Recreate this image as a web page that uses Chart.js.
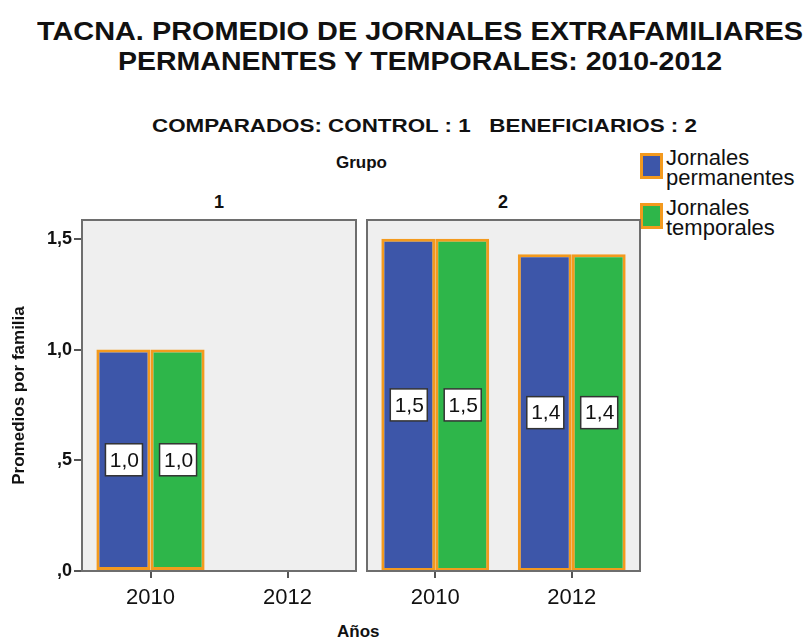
<!DOCTYPE html>
<html>
<head>
<meta charset="utf-8">
<script src="https://cdn.jsdelivr.net/npm/chart.js@4.4.0/dist/chart.umd.min.js"></script>
<style>
  body { margin: 0; background: #fff; width: 811px; height: 642px; position: relative; overflow: hidden;
         font-family: "Liberation Sans", Arial, sans-serif; color: #111; }
  .t { position: absolute; white-space: nowrap; }
  .fit { transform-origin: 0 0; font-family: "Liberation Sans Narrow", "Liberation Sans", Arial, sans-serif; }
  canvas { position: absolute; }
  .sw { position: absolute; width: 17px; height: 20px; border: 3px solid #f39a1e; }
</style>
</head>
<body>
<div id="title1" class="t fit" style="font-weight:bold;font-size:26px;top:16px;">TACNA. PROMEDIO DE JORNALES EXTRAFAMILIARES</div>
<div id="title2" class="t fit" style="font-weight:bold;font-size:26px;top:46px;">PERMANENTES Y TEMPORALES: 2010-2012</div>
<div id="subtitle" class="t fit" style="font-weight:bold;font-size:19px;top:115px;">COMPARADOS: CONTROL : 1&nbsp;&nbsp; BENEFICIARIOS : 2</div>
<div class="t" style="font-weight:bold;font-size:17px;left:336px;top:153px;">Grupo</div>
<div class="t" style="font-weight:bold;font-size:18px;left:214px;top:192px;">1</div>
<div class="t" style="font-weight:bold;font-size:18px;left:498px;top:192px;">2</div>
<div class="t" style="font-weight:bold;font-size:17px;left:337px;top:622px;">Años</div>

<div class="sw" style="left:640px;top:153px;background:#3d56a9;"></div>
<div class="t" style="font-size:22px;left:666px;top:148px;line-height:20px;">Jornales<br>permanentes</div>
<div class="sw" style="left:640px;top:203px;background:#2eb64a;"></div>
<div class="t" style="font-size:22px;left:666px;top:198px;line-height:20px;">Jornales<br>temporales</div>

<canvas id="c1" width="360" height="420" style="left:0;top:200px;"></canvas>
<canvas id="c2" width="290" height="420" style="left:360px;top:200px;"></canvas>

<script>
var years = ['2010', '2012'];
var permanentes1 = [1.0, null];
var temporales1 = [1.0, null];
var permanentes2 = [1.5, 1.43];
var temporales2 = [1.5, 1.43];
var yTicks = [0, 0.5, 1.0, 1.5];
var yMax = 1.585;

// stretch the title lines to the width seen in the picture
function fit(id, left, width) {
    var el = document.getElementById(id);
    el.style.left = left + 'px';
    var w = el.getBoundingClientRect().width;
    el.style.transform = 'scaleX(' + (width / w) + ')';
}
fit('title1', 37, 766);
fit('title2', 118, 604);
fit('subtitle', 152, 545);

function fmt(v) {
    return v.toFixed(1).replace('.', ',').replace(/^0/, '');
}

var panelPlugin = {
    id: 'panel',
    beforeDraw: function (chart) {
        var a = chart.chartArea, c = chart.ctx;
        c.save();
        c.fillStyle = '#efefef';
        c.fillRect(a.left, a.top, a.right - a.left, a.bottom - a.top);
        c.restore();
    },
    afterDraw: function (chart) {
        var a = chart.chartArea, c = chart.ctx;
        c.save();
        c.strokeStyle = '#6e6e6e';
        c.lineWidth = 2;
        c.strokeRect(a.left, a.top, a.right - a.left, a.bottom - a.top);
        c.restore();
    }
};

var labelPlugin = {
    id: 'boxlabels',
    afterDatasetsDraw: function (chart) {
        var c = chart.ctx;
        c.save();
        c.font = '21px "Liberation Sans", Arial, sans-serif';
        c.textAlign = 'center';
        c.textBaseline = 'middle';
        chart.data.datasets.forEach(function (ds, i) {
            chart.getDatasetMeta(i).data.forEach(function (bar, j) {
                var v = ds.data[j];
                if (v == null) return;
                var y = (bar.y + bar.base) / 2;
                c.fillStyle = '#fff';
                c.fillRect(bar.x - 18, y - 16, 37, 32);
                c.strokeStyle = '#333';
                c.lineWidth = 1.5;
                c.strokeRect(bar.x - 18, y - 16, 37, 32);
                c.fillStyle = '#111';
                c.fillText(fmt(v), bar.x + 1, y + 1);
            });
        });
        c.restore();
    }
};

function makeChart(id, perm, temp, showY, pad) {
    return new Chart(document.getElementById(id).getContext('2d'), {
        type: 'bar',
        data: {
            labels: years,
            datasets: [{
                label: 'Jornales permanentes',
                data: perm,
                backgroundColor: '#3d56a9',
                borderColor: '#f39a1e',
                borderWidth: 3,
                borderSkipped: false
            },
            {
                label: 'Jornales temporales',
                data: temp,
                backgroundColor: '#2eb64a',
                borderColor: '#f39a1e',
                borderWidth: 3,
                borderSkipped: false
            }]
        },
        options: {
            responsive: false,
            animation: false,
            categoryPercentage: 0.79,
            barPercentage: 1.0,
            layout: { padding: pad },
            plugins: { legend: { display: false }, tooltip: { enabled: false } },
            scales: {
                x: {
                    afterFit: function (s) { s.height = 49; },
                    grid: { offset: false, drawOnChartArea: false, tickLength: 7, tickColor: '#555', lineWidth: 2 },
                    border: { color: '#6e6e6e', width: 2 },
                    ticks: { color: '#111', padding: 7, font: { size: 22, family: '"Liberation Sans", Arial, sans-serif' } }
                },
                y: {
                    display: showY,
                    min: 0,
                    max: yMax,
                    afterFit: function (s) { s.width = showY ? 82 : 0; },
                    afterBuildTicks: function (s) {
                        s.ticks = yTicks.map(function (v) { return { value: v }; });
                    },
                    grid: { drawOnChartArea: false, tickLength: 8, tickColor: '#555', lineWidth: 2 },
                    border: { color: '#6e6e6e', width: 2 },
                    ticks: {
                        color: '#111', padding: 2,
                        font: { size: 18, weight: 'bold', family: '"Liberation Sans", Arial, sans-serif' },
                        callback: function (v) { return fmt(v); }
                    },
                    title: {
                        display: true,
                        text: 'Promedios por familia',
                        color: '#111',
                        padding: { top: 9, bottom: 0 },
                        font: { size: 17, weight: 'bold', family: '"Liberation Sans", Arial, sans-serif' }
                    }
                }
            }
        },
        plugins: [panelPlugin, labelPlugin]
    });
}

makeChart('c1', permanentes1, temporales1, true, { top: 20, right: 4, left: 0, bottom: 0 });
makeChart('c2', permanentes2, temporales2, false, { top: 20, right: 10, left: 7, bottom: 0 });
</script>
</body>
</html>
